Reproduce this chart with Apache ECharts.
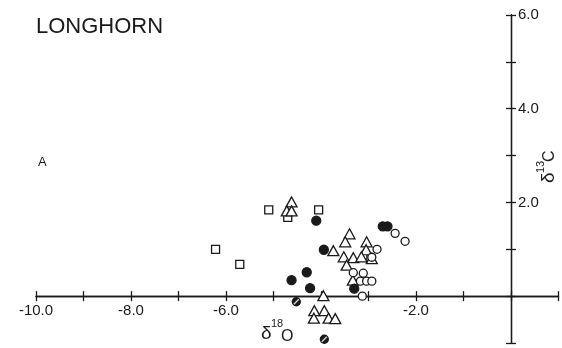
<!DOCTYPE html>
<html>
<head>
<meta charset="utf-8">
<script src="https://cdn.jsdelivr.net/npm/echarts@6/dist/echarts.min.js"></script>
<style>
html,body{margin:0;padding:0;background:#fff;}
#chart{width:562px;height:348px;}
</style>
</head>
<body>
<div id="chart"></div>
<script>
var dom = document.getElementById("chart");
var myChart = echarts.init(dom);

// d18O, d13C
var squares = [[-5.10, 1.84], [-4.70, 1.68], [-4.05, 1.84], [-6.22, 1.00], [-5.71, 0.68], [-2.95, 0.80]];
var triangles = [
 [-4.62, 2.01], [-4.72, 1.82], [-4.62, 1.82],
 [-3.40, 1.33], [-3.49, 1.16], [-3.74, 0.97], [-3.04, 1.16], [-3.05, 0.99],
 [-3.52, 0.84], [-3.32, 0.82], [-3.15, 0.84], [-2.93, 0.80], [-3.46, 0.66],
 [-3.33, 0.34], [-3.95, 0.01],
 [-4.14, -0.31], [-3.93, -0.31], [-4.15, -0.47], [-3.84, -0.47], [-3.70, -0.48]
];
var filledCircles = [[-4.10, 1.61], [-2.70, 1.49], [-2.60, 1.49], [-3.94, 0.99], [-4.30, 0.51], [-4.62, 0.34], [-4.23, 0.17], [-3.30, 0.16]];
var openCircles = [[-2.44, 1.34], [-2.23, 1.17], [-2.82, 1.00], [-2.93, 0.83], [-3.32, 0.50], [-3.11, 0.49], [-3.17, 0.32], [-3.04, 0.32], [-2.93, 0.32], [-3.13, 0.00]];
var hatchedCircles = [[-4.52, -0.12], [-3.93, -0.92]];

var xLabels = [-10, -8, -6, -2];
var yLabels = [2, 4, 6];
var xMin = -10, xMax = 1, yMin = -1, yMax = 6;

var ink = '#1a1a1a';
var font = 'Liberation Sans';

// grid box, and where the zero lines fall inside it
var W = 562, H = 348;
var g = {left: 36, right: 3.5, top: 15, bottom: 5};
var gw = W - g.left - g.right, gh = H - g.top - g.bottom;
var xOff = -gh * (0 - yMin) / (yMax - yMin);   // lift x axis to y = 0
var yOff = -gw * (xMax - 0) / (xMax - xMin);   // pull y axis to x = 0

function xAx(inside, showLabel) {
 return {
  type: 'value', min: xMin, max: xMax, interval: 1, position: 'bottom', offset: xOff,
  axisLine: {onZero: false, lineStyle: {color: ink, width: 1.3}},
  axisTick: {inside: inside, length: 5, lineStyle: {color: ink, width: 1.3}},
  splitLine: {show: false},
  axisLabel: {
   show: showLabel, margin: 7, color: ink, fontFamily: font, fontSize: 15,
   formatter: function (v) { return xLabels.indexOf(v) >= 0 ? v.toFixed(1) : ''; }
  }
 };
}
function yAx(inside, showLabel) {
 return {
  type: 'value', min: yMin, max: yMax, interval: 1, position: 'right', offset: yOff,
  axisLine: {onZero: false, lineStyle: {color: ink, width: 1.3}},
  axisTick: {inside: inside, length: 5, lineStyle: {color: ink, width: 1.3}},
  splitLine: {show: false},
  axisLabel: {
   show: showLabel, margin: 7, color: ink, fontFamily: font, fontSize: 15,
   formatter: function (v) { return yLabels.indexOf(v) >= 0 ? v.toFixed(1) : ''; }
  }
 };
}

function pts(name, data, symbol, size, filled) {
 return {
  name: name, type: 'scatter', xAxisIndex: 0, yAxisIndex: 0,
  data: data, symbol: symbol, symbolSize: size, z: 3,
  itemStyle: {color: filled ? ink : '#fff', borderColor: ink, borderWidth: 1.3, opacity: 1}
 };
}

var option = {
 animation: false,
 backgroundColor: '#fff',
 grid: {left: g.left, right: g.right, top: g.top, bottom: g.bottom, containLabel: false, outerBoundsMode: 'none'},
 xAxis: [xAx(false, true), xAx(true, false)],
 yAxis: [yAx(false, true), yAx(true, false)],
 series: [
  pts('square', squares, 'rect', 8, false),
  pts('triangle', triangles, 'triangle', [11, 10], false),
  pts('open', openCircles, 'circle', 8, false),
  pts('filled', filledCircles, 'circle', 9, true),
  pts('hatched', hatchedCircles, 'circle', 8, true),
  {
   name: 'hatch', type: 'scatter', data: hatchedCircles, z: 4,
   symbol: 'path://M0,10 L10,0', symbolSize: 5,
   itemStyle: {color: 'none', borderColor: '#fff', borderWidth: 1.4}
  }
 ],
 graphic: [
  {type: 'text', left: 36, top: 16, style: {text: 'LONGHORN', fill: ink, font: '22px "Liberation Sans"'}},
  {type: 'text', left: 38, top: 156, style: {text: 'A', fill: ink, font: '13px "Liberation Sans"'}},
  {type: 'text', x: 261, y: 334, style: {text: 'δ', fill: ink, font: '19px "Liberation Sans"', verticalAlign: 'middle'}},
  {type: 'text', x: 271, y: 324, style: {text: '18', fill: ink, font: '11px "Liberation Sans"', verticalAlign: 'middle'}},
  {type: 'text', x: 281, y: 337, style: {text: 'O', fill: ink, font: '16px "Liberation Sans"', verticalAlign: 'middle'}},
  {
   type: 'group', x: 548, y: 168, rotation: Math.PI / 2,
   children: [
    {type: 'text', x: -15, y: 1, style: {text: 'δ', fill: ink, font: '19px "Liberation Sans"', verticalAlign: 'middle'}},
    {type: 'text', x: -5, y: -7, style: {text: '13', fill: ink, font: '11px "Liberation Sans"', verticalAlign: 'middle'}},
    {type: 'text', x: 6, y: 2, style: {text: 'C', fill: ink, font: '16px "Liberation Sans"', verticalAlign: 'middle'}}
   ]
  }
 ]
};
myChart.setOption(option);
</script>
</body>
</html>
